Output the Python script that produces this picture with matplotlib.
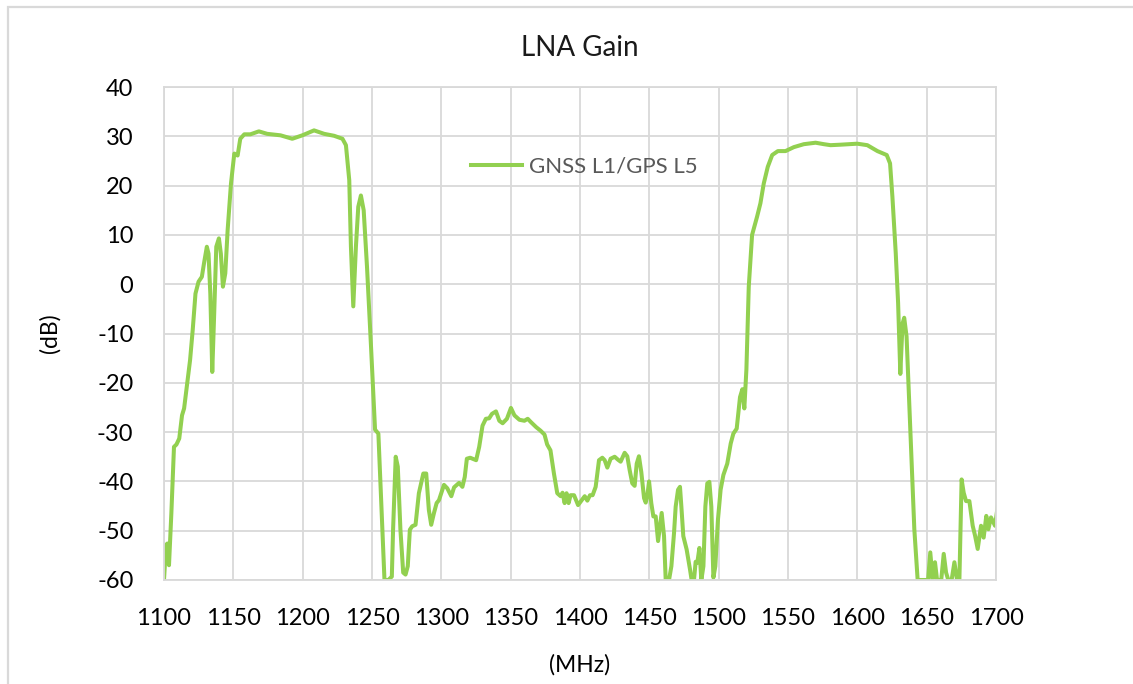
import numpy as np
import matplotlib
matplotlib.use("Agg")
import matplotlib.pyplot as plt
from matplotlib.patches import Rectangle

plt.rcParams['font.family'] = ['Lato', 'DejaVu Sans']
plt.rcParams['axes.unicode_minus'] = False

# frequency (MHz) and gain (dB)
freq = [1100, 1101.5, 1102.4, 1103.6, 1105.3, 1107.2, 1109, 1111, 1113, 1114.5,
        1116.7, 1118.8, 1120.7, 1122.7, 1124.9, 1127.3, 1129, 1130.9, 1132.1, 1133.4,
        1134.8, 1136.2, 1137.7, 1139.6, 1141, 1142.5, 1144.2, 1145.9, 1148.3, 1150.7,
        1153.1, 1155, 1157.9, 1162.3, 1168.4, 1174.4, 1184, 1192.5, 1199.8, 1208.2,
        1215.5, 1222.7, 1228.7, 1231.2, 1233.6, 1234.8, 1236.5, 1238.4, 1240.1, 1242,
        1244, 1246.4, 1249.3, 1252.2, 1254.6, 1256.5, 1259, 1261.8, 1264.3, 1265.2,
        1267.1, 1268.6, 1270.5, 1272.5, 1274.2, 1275.8, 1277.3, 1279, 1281.4, 1283.8,
        1287, 1289.1, 1291, 1292.7, 1294.7, 1296.6, 1298.3, 1301.9, 1304.3, 1307.2,
        1309.2, 1312.8, 1315.2, 1316.9, 1318.4, 1320.8, 1325.1, 1327.3, 1329.7, 1332.1,
        1334.5, 1336.5, 1339.4, 1341.8, 1344.2, 1347.3, 1350.2, 1352.7, 1356.3, 1359.9,
        1362.3, 1364.7, 1368.4, 1371.5, 1374.4, 1376.3, 1378.7, 1381.2, 1383.6, 1386,
        1387.4, 1388.9, 1390.3, 1391.8, 1393.2, 1395.7, 1398.6, 1401, 1403.4, 1405.3,
        1407.2, 1409.1, 1411.3, 1413.7, 1416.1, 1417.8, 1419.7, 1422.1, 1425, 1427.4,
        1429.3, 1432.2, 1434.1, 1435.8, 1437.7, 1439.4, 1440.9, 1442.5, 1444.2, 1446.2,
        1447.4, 1448.6, 1449.8, 1451.4, 1452.9, 1454.6, 1456.3, 1457.7, 1458.9, 1460.6,
        1461.8, 1464.2, 1465.9, 1467.8, 1469, 1470.7, 1472.1, 1473.1, 1474.5, 1476.9,
        1479.3, 1480.5, 1482.2, 1483.4, 1484.6, 1486.1, 1487.5, 1489, 1490.4, 1491.8,
        1493.3, 1494.7, 1496.2, 1497.6, 1499.5, 1501.4, 1503.4, 1506.2, 1508.7, 1510.6,
        1513, 1515.4, 1517.1, 1518.5, 1520, 1521.7, 1524.1, 1527.7, 1530.1, 1532.5,
        1535.4, 1538.6, 1542.7, 1548.2, 1554.2, 1561.4, 1569.9, 1575.9, 1580.7, 1588,
        1600, 1607.2, 1614.5, 1621.2, 1623.6, 1625.3, 1627.7, 1629.4, 1631, 1632.6,
        1633.8, 1635.5, 1638.7, 1641.1, 1643.5, 1649.5, 1651, 1652.6, 1654.3, 1656,
        1657.5, 1660.5, 1662.3, 1664, 1665.6, 1668, 1670, 1671.9, 1673.6, 1675.2,
        1676.7, 1678.4, 1680.8, 1683.2, 1684.9, 1686.8, 1689.2, 1691.1, 1693, 1694.5,
        1696.4, 1699.3, 1701.5]
gain = [-60, -52.9, -52.6, -57, -46.5, -33, -32.5, -31.3, -26.6, -25.2,
        -20.1, -15.4, -9.3, -1.9, 0.5, 1.5, 4.5, 7.6, 6.2, -1.9,
        -17.8, -5.9, 7.6, 9.3, 6.2, -0.5, 2.2, 11, 20.4, 26.5,
        26.1, 29.5, 30.4, 30.4, 31, 30.5, 30.2, 29.5, 30.2, 31.2,
        30.5, 30.1, 29.5, 28.2, 21.1, 7.6, -4.5, 7.6, 15.7, 18,
        15, 3.5, -12.7, -29.5, -30.3, -43.1, -60, -60, -59.3, -49.8,
        -35, -37, -49.8, -58.5, -58.9, -57.2, -49.8, -49.1, -48.8, -42.4,
        -38.4, -38.4, -45.8, -48.8, -46.4, -44.4, -43.8, -40.7, -41.4, -43,
        -41.2, -40.3, -41.1, -39.1, -35.4, -35.2, -35.7, -33, -28.7, -27.3,
        -27.2, -26.3, -25.8, -27.7, -28.2, -27.3, -25.1, -26.6, -27.5, -27.7,
        -27.3, -28, -29, -29.7, -30.5, -32.5, -33.7, -38.4, -42.4, -43,
        -42.3, -44.4, -42.4, -44.4, -42.8, -42.8, -44.8, -43.9, -43, -43.9,
        -42.8, -42.8, -41.1, -35.7, -35.2, -35.7, -37.2, -35.4, -35, -35.6,
        -36, -34.2, -34.9, -37.7, -40.4, -40.9, -36.4, -34.9, -38.1, -43.4,
        -44.3, -42.8, -40, -44.4, -47.1, -47.1, -52.1, -49.1, -46.4, -51.1,
        -60, -60, -57.2, -50.5, -45.1, -41.7, -41.1, -45.1, -51.1, -53.8,
        -57.8, -60, -60, -56.3, -56.5, -53.5, -60, -57.2, -45.1, -40.4,
        -40.1, -45.1, -59.5, -57.2, -47.7, -41.7, -38.7, -36.4, -32.3, -30.3,
        -29.3, -22.9, -21.3, -25.2, -17.3, -0.5, 10, 13.7, 16.4, 20.4,
        23.8, 26.2, 27, 27, 27.8, 28.4, 28.7, 28.4, 28.2, 28.3,
        28.5, 28.2, 27, 26.2, 24.5, 17.7, 6.3, -3.8, -18.2, -8,
        -6.8, -10.6, -32.9, -49.7, -60, -60, -60, -54.4, -59.8, -56.4,
        -60, -60, -54.7, -58.5, -60, -60, -56.4, -60, -60, -39.6,
        -42.3, -44, -44, -49, -51, -53.7, -49, -51.4, -47, -49.7,
        -47.3, -49, -44.5]

x_ticks = list(range(1100, 1701, 50))
y_ticks = list(range(-60, 41, 10))

GREEN = '#92D050'
GRID = '#D9D9D9'

fig = plt.figure(figsize=(11.33, 6.84), dpi=100)

# Excel-style chart-area border
fig.patches.append(Rectangle((8/1133, -0.05), 1.2, 1 - 7/684 + 0.05, transform=fig.transFigure,
                             fill=False, edgecolor=GRID, linewidth=1.6))

ax = fig.add_axes([164/1133, 1 - 580/684, (996 - 164)/1133, (580 - 87)/684])
ax.plot(freq, gain, color=GREEN, lw=2.9, solid_joinstyle='round', label='GNSS L1/GPS L5')

ax.set_xlim(1100, 1700)
ax.set_ylim(-60, 40)
ax.set_xticks(x_ticks)
ax.set_yticks(y_ticks)
ax.grid(True, color=GRID, linewidth=1.3)
ax.set_axisbelow(True)
for s in ax.spines.values():
    s.set_color(GRID)
    s.set_linewidth(1.3)
ax.tick_params(length=0, labelsize=17, labelcolor='black')
ax.tick_params(axis='y', pad=22)
ax.tick_params(axis='x', pad=20)

ax.set_title('LNA Gain', fontsize=20, color='#1a1a1a', pad=22)
ax.set_xlabel('(MHz)', fontsize=16.5, labelpad=18)
ax.set_ylabel('(dB)', fontsize=16.5, labelpad=26)

leg = ax.legend(loc='upper left', bbox_to_anchor=(0.345, 0.90), frameon=False,
                fontsize=16, handlelength=2.3, handletextpad=0.3)
for t in leg.get_texts():
    t.set_color('#595959')

fig.savefig('out.png', dpi=100)
